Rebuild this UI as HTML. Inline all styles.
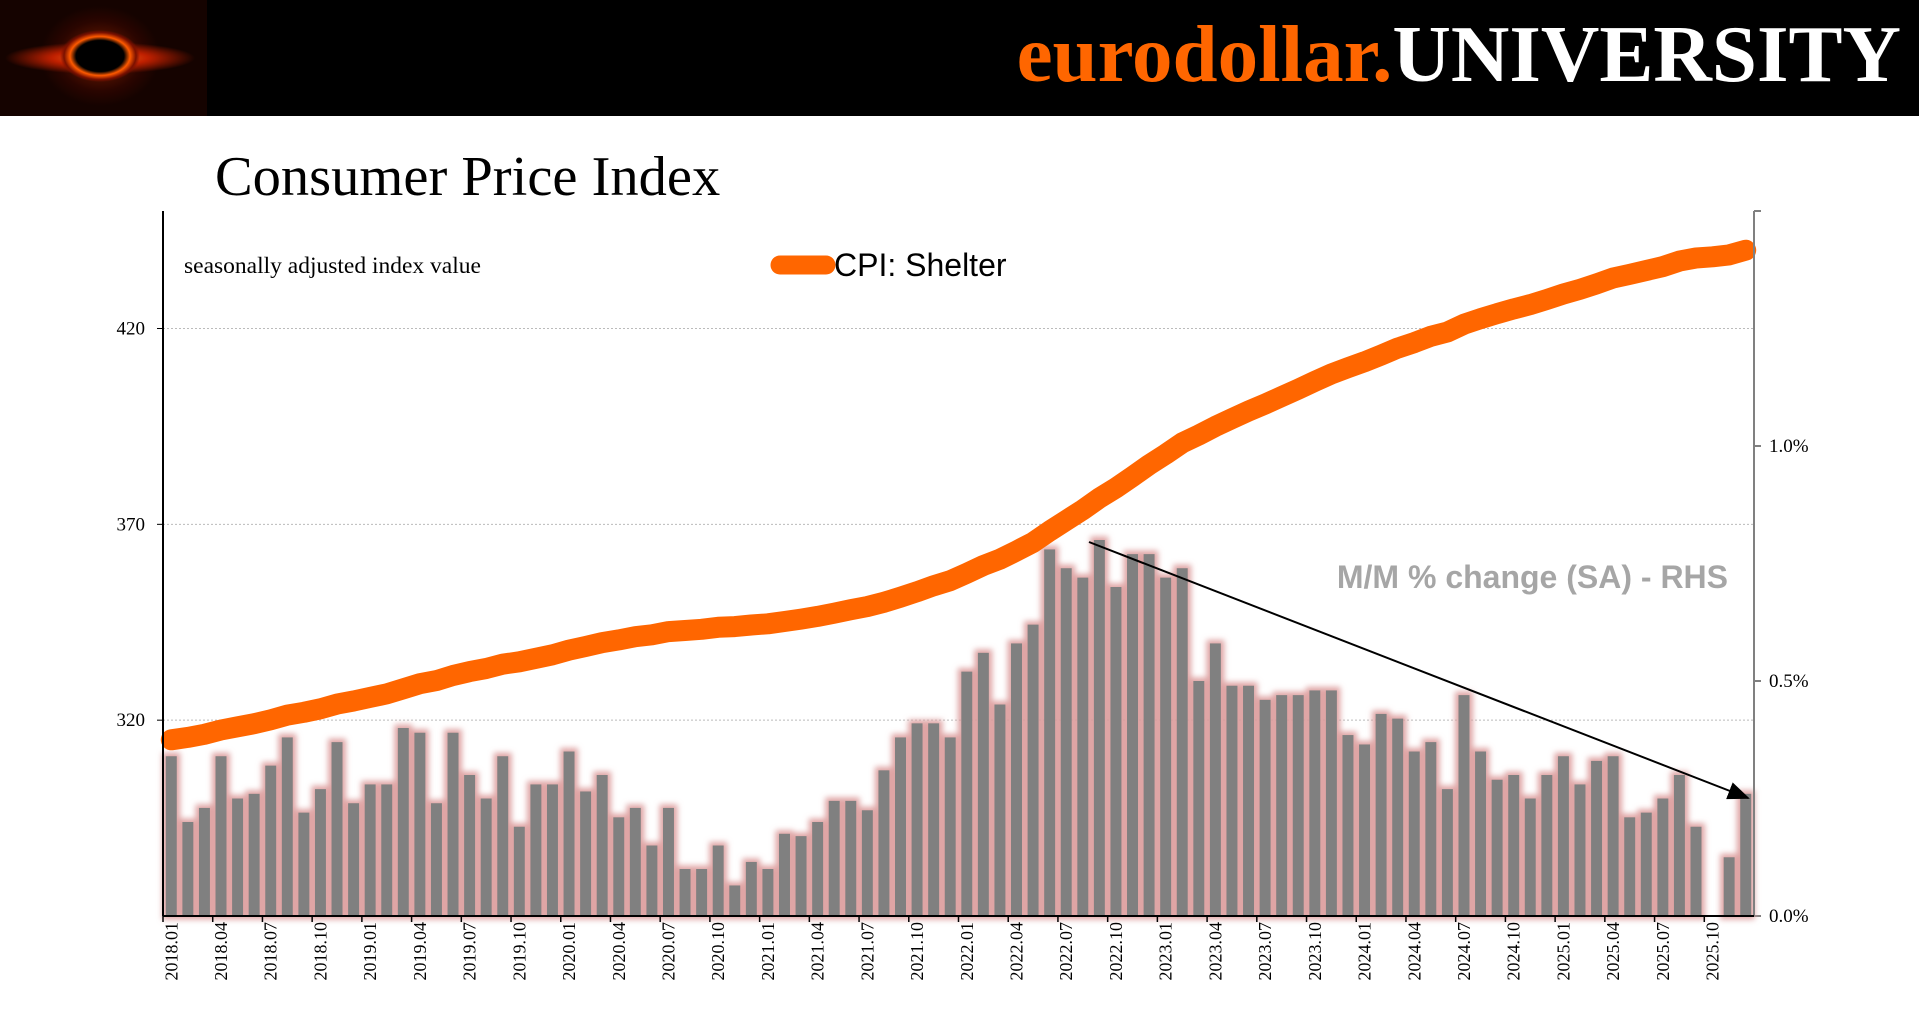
<!DOCTYPE html>
<html><head><meta charset="utf-8"><style>
body{margin:0;width:1919px;height:1013px;background:#fff;overflow:hidden;position:relative;font-family:"Liberation Serif",serif}
#hdr{position:absolute;left:0;top:0;width:1919px;height:116px;background:#000}
#logo{position:absolute;left:0;top:0;width:207px;height:116px;background:radial-gradient(ellipse 40px 26px at 100px 56px,#000 60%,#ff5a00 75%,#7a1000 90%,transparent 100%),radial-gradient(ellipse 95px 16px at 100px 58px,#ff7a20 0%,#c02000 50%,transparent 100%),radial-gradient(ellipse 60px 50px at 100px 56px,#802000 0%,#2a0500 70%,#150300 100%)}
#brand{position:absolute;right:18px;top:6px;font-weight:bold;font-size:81px;line-height:96px;white-space:nowrap}
#title{position:absolute;left:215px;top:145px;font-size:56.5px;line-height:64px}
</style></head><body>
<div id="hdr"></div>
<div id="logo"></div>
<div id="brand"><span style="color:#ff6600">eurodollar.</span><span style="color:#fff">UNIVERSITY</span></div>
<div id="title">Consumer Price Index</div>
<svg id="chart" width="1919" height="1013" style="position:absolute;left:0;top:0">
<defs>
<filter id="glow" x="-50%" y="-10%" width="200%" height="120%">
<feMorphology in="SourceAlpha" operator="dilate" radius="3.5" result="d"/>
<feGaussianBlur in="d" stdDeviation="3" result="b"/>
<feFlood flood-color="#dc9c9c" flood-opacity="0.9"/>
<feComposite in2="b" operator="in" result="g"/>
<feMerge><feMergeNode in="g"/><feMergeNode in="SourceGraphic"/></feMerge>
</filter>
<marker id="ah" markerWidth="22" markerHeight="18" refX="20" refY="9" orient="auto" markerUnits="userSpaceOnUse"><path d="M0,0 L22,9 L0,18 Z" fill="#000"/></marker>
</defs>
</svg>
<script>
const months=["2018.01","2018.02","2018.03","2018.04","2018.05","2018.06","2018.07","2018.08","2018.09","2018.10","2018.11","2018.12","2019.01","2019.02","2019.03","2019.04","2019.05","2019.06","2019.07","2019.08","2019.09","2019.10","2019.11","2019.12","2020.01","2020.02","2020.03","2020.04","2020.05","2020.06","2020.07","2020.08","2020.09","2020.10","2020.11","2020.12","2021.01","2021.02","2021.03","2021.04","2021.05","2021.06","2021.07","2021.08","2021.09","2021.10","2021.11","2021.12","2022.01","2022.02","2022.03","2022.04","2022.05","2022.06","2022.07","2022.08","2022.09","2022.10","2022.11","2022.12","2023.01","2023.02","2023.03","2023.04","2023.05","2023.06","2023.07","2023.08","2023.09","2023.10","2023.11","2023.12","2024.01","2024.02","2024.03","2024.04","2024.05","2024.06","2024.07","2024.08","2024.09","2024.10","2024.11","2024.12","2025.01","2025.02","2025.03","2025.04","2025.05","2025.06","2025.07","2025.08","2025.09","2025.10","2025.11","2025.12"];
const mmChange=[0.34,0.20,0.23,0.34,0.25,0.26,0.32,0.38,0.22,0.27,0.37,0.24,0.28,0.28,0.40,0.39,0.24,0.39,0.30,0.25,0.34,0.19,0.28,0.28,0.35,0.265,0.30,0.21,0.23,0.15,0.23,0.10,0.10,0.15,0.065,0.115,0.10,0.175,0.17,0.20,0.245,0.245,0.225,0.31,0.38,0.41,0.41,0.38,0.52,0.56,0.45,0.58,0.62,0.78,0.74,0.72,0.80,0.70,0.77,0.77,0.72,0.74,0.50,0.58,0.49,0.49,0.46,0.47,0.47,0.48,0.48,0.385,0.365,0.43,0.42,0.35,0.37,0.27,0.47,0.35,0.29,0.30,0.25,0.30,0.34,0.28,0.33,0.34,0.21,0.22,0.25,0.30,0.19,null,0.125,0.26];
const shelter=[315.0,315.6,316.4,317.5,318.3,319.1,320.1,321.3,322.0,322.9,324.1,324.9,325.8,326.7,328.0,329.3,330.1,331.4,332.4,333.2,334.3,334.9,335.8,336.7,337.9,338.8,339.8,340.5,341.3,341.8,342.6,342.9,343.2,343.7,343.9,344.3,344.6,345.2,345.8,346.5,347.3,348.2,349.0,350.1,351.4,352.8,354.3,355.6,357.5,359.5,361.1,363.2,365.4,368.3,371.0,373.7,376.7,379.3,382.2,385.2,387.9,390.8,392.8,395.0,397.0,398.9,400.7,402.6,404.5,406.5,408.4,410.0,411.5,413.2,415.0,416.4,418.0,419.1,421.1,422.5,423.8,425.0,426.1,427.4,428.8,430.0,431.4,432.9,433.8,434.8,435.8,437.2,438.0,438.3,438.8,440.0];
const leftTicks=[320,370,420];
const rightTicks=[0,0.5,1.0];
const rightTickLabels=["0.0%","0.5%","1.0%"];

const NS="http://www.w3.org/2000/svg";
const svg=document.getElementById('chart');
const L=163,R=1754,T=211,B=916;
const step=(R-L)/months.length;
const xC=i=>L+(i+0.5)*step;
const yL=v=>B-(v-270)/(450-270)*(B-T);
const yR=v=>B-v/1.5*(B-T);
function mk(tag,attrs,parent){const e=document.createElementNS(NS,tag);for(const k in attrs)e.setAttribute(k,attrs[k]);(parent||svg).appendChild(e);return e;}

const grid=mk('g',{});


leftTicks.forEach(v=>{
  const ln=mk('line',{x1:L,x2:R,y1:yL(v),y2:yL(v),stroke:'#bbb','stroke-width':1,'stroke-dasharray':'2,2'},grid);
  
  
  mk('line',{x1:L-6,x2:L,y1:yL(v),y2:yL(v),stroke:'#000'},grid);
  const t=mk('text',{x:L-18,y:yL(v)+6,'text-anchor':'end','font-size':19,'font-family':'Liberation Serif, serif'});
  t.textContent=v;
  
  
});
rightTicks.forEach((v,i)=>{
  mk('line',{x1:R,x2:R+7,y1:yR(v),y2:yR(v),stroke:'#808080','stroke-width':2});
  const t=mk('text',{x:R+15,y:yR(v)+6,'font-size':19,'font-family':'Liberation Serif, serif'});
  t.textContent=rightTickLabels[i];
  
  
});

const bars=mk('g',{filter:'url(#glow)'});


mmChange.forEach((v,i)=>{
  if(v===null)return;
  const r=mk('rect',{x:xC(i)-5.5,y:yR(v),width:11,height:B-yR(v),fill:'#808080'},bars);
  
  
});

const pts=shelter.map((v,i)=>xC(i).toFixed(1)+','+yL(v).toFixed(1)).join(' ');
const line=mk('polyline',{points:pts,fill:'none',stroke:'#ff6600','stroke-width':21,'stroke-linecap':'round','stroke-linejoin':'round'});



const ax=mk('line',{x1:L,x2:L,y1:T,y2:B,stroke:'#000','stroke-width':2});


const ax2=mk('line',{x1:R,x2:R,y1:T,y2:B,stroke:'#808080','stroke-width':2});


const ax3=mk('line',{x1:L,x2:R,y1:B,y2:B,stroke:'#000','stroke-width':2});


mk('line',{x1:R,x2:R+7,y1:T,y2:T,stroke:'#808080','stroke-width':2});

months.forEach((m,i)=>{
  if(i%3!==0)return;
  mk('line',{x1:L+i*step,x2:L+i*step,y1:B,y2:B+6,stroke:'#000','stroke-width':1.5});
  const t=mk('text',{transform:`translate(${xC(i)+6},${B+6}) rotate(-90)`,'text-anchor':'end','font-size':18,'font-family':'Liberation Serif, serif'});
  t.textContent=m;
  
  
});

const arrow=mk('line',{x1:1089,y1:542,x2:1748,y2:798,stroke:'#000','stroke-width':2,'marker-end':'url(#ah)'});



const note=mk('text',{x:184,y:273,'font-size':23.5,'font-family':'Liberation Serif, serif'});
note.textContent='seasonally adjusted index value';



const lg=mk('line',{x1:780,x2:826,y1:265,y2:265,stroke:'#ff6600','stroke-width':19,'stroke-linecap':'round'});


const lt=mk('text',{x:834,y:276,'font-size':32,'font-family':'Liberation Sans, sans-serif'});
lt.textContent='CPI: Shelter';



const rh=mk('text',{x:1728,y:588,'text-anchor':'end','font-size':32,'font-weight':'bold',fill:'#a6a6a6','font-family':'Liberation Sans, sans-serif'});
rh.textContent='M/M % change (SA) - RHS';


</script>
</body></html>
